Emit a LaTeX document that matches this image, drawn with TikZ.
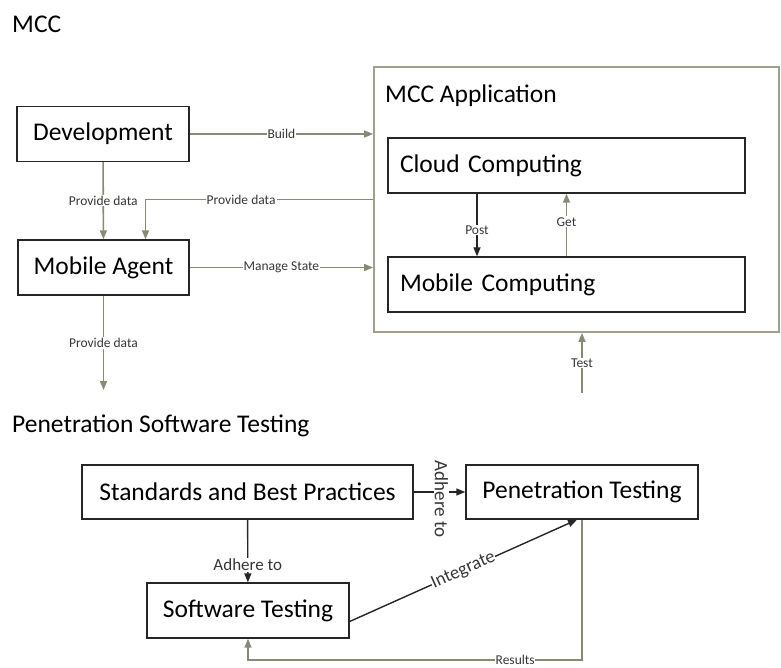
\documentclass[tikz,border=0pt]{standalone}
\usepackage{fontspec}
\setmainfont{Carlito}
\usetikzlibrary{arrows.meta, positioning, calc}
\definecolor{linegray}{RGB}{138,138,116}
\definecolor{framegray}{RGB}{160,160,140}
\definecolor{labelgray}{RGB}{55,55,55}
\tikzset{
  block/.style={rectangle, draw=black!85, line width=1.4pt, fill=white,
    minimum height=55pt, inner sep=0pt,
    font=\fontsize{25.5}{30}\selectfont},
  wideblock/.style={rectangle, draw=black!85, line width=1.4pt, fill=white,
    minimum height=55pt, text width=333pt, inner xsep=12pt, inner ysep=0pt,
    align=left, font=\fontsize{25.5}{30}\selectfont},
  frame/.style={rectangle, draw=framegray, line width=1.8pt, inner sep=0pt},
  heading/.style={font=\fontsize{25.5}{30}\selectfont, inner sep=0pt},
  tag/.style={fill=white, inner sep=1pt, text=labelgray,
    font=\fontsize{13.5}{15}\selectfont},
  bigtag/.style={fill=white, inner sep=1pt, text=labelgray,
    font=\fontsize{17}{19}\selectfont},
  arr/.style={-{Triangle[length=9pt, width=7pt]}, line width=1.6pt, draw=linegray},
  blackarr/.style={-{Triangle[length=9pt, width=7pt]}, line width=1.4pt, draw=black!85},
}

\begin{document}
\begin{tikzpicture}[x=1pt, y=-1pt]
\useasboundingbox (0,0) rectangle (781,668);

% MCC part
\node (mcctitle) [heading, anchor=base west] at (12,33) {MCC};

\node (dev) [block, minimum width=172pt] at (103,134) {Development};
\node (agent) [block, minimum width=171pt] at (103.5,267.5) {Mobile Agent};

% MCC application frame
\node (app) [frame, minimum width=405pt, minimum height=265pt] at (576.5,199.5) {};
\node (apptitle) [heading, anchor=base west] at (385,103) {MCC Application};

\node (cloud) [wideblock] at (566.5,165.5) {Cloud Computing};
\node (mobile) [wideblock] at (566.5,284.5) {Mobile Computing};

\coordinate (agentout) at (103.5,390);
\coordinate (testin) at (582,393);

\draw[arr] (dev.east) -- node[tag]{Build} (dev.east -| app.west);
\draw[arr] (dev) -- node[tag]{Provide data} (agent);
\draw[arr] (app.west) -| node[tag, pos=0.29]{Provide data} ([xshift=42pt]agent.north);
\draw[arr] (agent.east) -- node[tag]{Manage State} (agent.east -| app.west);
\draw[arr] (agent) -- node[tag, pos=0.5]{Provide data} (agentout);

\draw[blackarr] ([xshift=-89.5pt]cloud.south) -- node[tag, pos=0.58]{Post}
  ([xshift=-89.5pt]mobile.north);
\draw[arr] (mobile) -- node[tag, pos=0.55]{Get} (cloud);
\draw[arr] (testin) -- node[tag]{Test} (testin |- app.south);

% Penetration software testing part
\node (pentitle) [heading, anchor=base west] at (12,432) {Penetration Software Testing};

\node (std) [block, minimum width=331pt, minimum height=54pt] at (247.5,492)
  {Standards and Best Practices};
\node (pen) [block, minimum width=232pt, minimum height=54pt] at (582,492)
  {Penetration Testing};
\node (soft) [block, minimum width=202pt] at (248,610.5) {Software Testing};

\coordinate (rescorner) at (582,660);

\draw[blackarr] (std) -- node[bigtag, yshift=-7pt, xshift=2pt, rotate=-90,
  font=\fontsize{19}{21}\selectfont]{Adhere to} (pen);
\draw[blackarr] (std) -- node[bigtag, pos=0.72]{Adhere to} (soft);
\draw[blackarr] ([yshift=-11pt]soft.east) -- node[bigtag, sloped, inner sep=0.5pt,
  font=\fontsize{18.5}{20}\selectfont]{Integrate} ([xshift=-5pt]pen.south);
\draw[arr] (pen.south) -- (rescorner) -| node[tag, pos=0.1, inner sep=0.5pt]{Results}
  (soft.south);

\end{tikzpicture}
\end{document}
